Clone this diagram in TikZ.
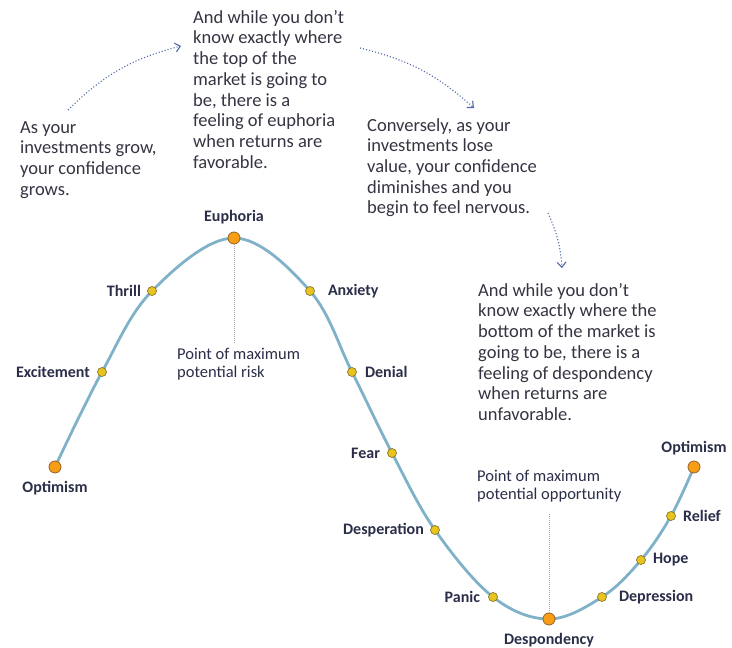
\documentclass[tikz,border=0pt]{standalone}
\usepackage{fontspec}
\setmainfont{Carlito}
\usepackage{xcolor}
\usetikzlibrary{positioning,arrows.meta}

\definecolor{curveblue}{RGB}{127,178,200}
\definecolor{dotorange}{RGB}{247,158,22}
\definecolor{dotorangeline}{RGB}{150,100,35}
\definecolor{dotyellow}{RGB}{232,196,32}
\definecolor{dotyellowline}{RGB}{140,118,40}
\definecolor{labelnavy}{RGB}{42,46,72}
\definecolor{textgray}{RGB}{52,52,66}
\definecolor{hintblue}{RGB}{80,105,170}

\begin{document}
\begin{tikzpicture}[x=1pt, y=-1pt,
  bigdot/.style={circle, fill=dotorange, draw=dotorangeline, line width=0.8pt, minimum size=12pt, inner sep=0pt},
  smalldot/.style={circle, fill=dotyellow, draw=dotyellowline, line width=0.7pt, minimum size=9pt, inner sep=0pt},
  lbl/.style={font=\fontsize{16}{17}\selectfont\bfseries, text=labelnavy, inner sep=0pt},
  pointnote/.style={font=\fontsize{16.5}{18}\selectfont, text=labelnavy, align=left, anchor=north west, inner sep=0pt},
  note/.style={font=\fontsize{18.5}{20.7}\selectfont, text=textgray, align=left, anchor=north west, inner sep=0pt},
  hint/.style={dotted, line width=1.1pt, draw=hintblue, -{Straight Barb[length=5pt, width=9pt]}},
  riskline/.style={densely dotted, draw=gray!70, line width=1pt},
  cycleline/.style={draw=curveblue, line width=2.8pt}]

\useasboundingbox (0,0) rectangle (732,648);

% points on the cycle
\foreach \name/\x/\y in {opt1/55/467, excite/102/372, thrill/152/291, euph/234/238,
    anx/310/291, denial/352/372, fear/392/453, desp/435/530, panic/493/597,
    despond/549/619, depr/602/597, hope/641/560, relief/671/516, opt2/694/467}
  \coordinate (\name) at (\x,\y);

\draw[cycleline] plot[smooth, tension=0.6] coordinates {(opt1) (excite) (thrill) (euph) (anx) (denial) (fear) (desp) (panic) (despond) (depr) (hope) (relief) (opt2)};

\foreach \name in {opt1, euph, despond, opt2}
  \node[bigdot] (\name-d) at (\name) {};
\foreach \name in {excite, thrill, anx, denial, fear, desp, panic, depr, hope, relief}
  \node[smalldot] (\name-d) at (\name) {};

% stage labels
\node[lbl, below=8pt of opt1-d] {Optimism};
\node[lbl, left=7pt of excite-d] {Excitement};
\node[lbl, left=6pt of thrill-d] {Thrill};
\node[lbl, above=7pt of euph-d] {Euphoria};
\node[lbl, right=13pt of anx-d] {Anxiety};
\node[lbl, right=8pt of denial-d] {Denial};
\node[lbl, left=7pt of fear-d] {Fear};
\node[lbl, left=6pt of desp-d] {Desperation};
\node[lbl, left=8pt of panic-d] {Panic};
\node[lbl, below=8pt of despond-d] {Despondency};
\node[lbl, right=12pt of depr-d] {Depression};
\node[lbl, right=7pt of hope-d] {Hope};
\node[lbl, right=7pt of relief-d] {Relief};
\node[lbl, above=5pt of opt2-d] {Optimism};

% maximum risk / opportunity
\node[pointnote] (risk) at (177,348) {Point of maximum\\potential risk};
\coordinate (riskend) at (234,343);
\draw[riskline] (euph-d) -- (riskend);
\node[pointnote] (oppo) at (477,470) {Point of maximum\\potential opportunity};
\coordinate (oppoend) at (549,513);
\draw[riskline] (despond-d) -- (oppoend);

% notes
\node[note] (grow) at (20,121) {As your\\investments grow,\\your confidence\\grows.};
\node[note] (top) at (193,10) {And while you don't\\know exactly where\\the top of the\\market is going to\\be, there is a\\feeling of euphoria\\when returns are\\favorable.};
\node[note] (lose) at (367,118) {Conversely, as your\\investments lose\\value, your confidence\\diminishes and you\\begin to feel nervous.};
\node[note] (bottom) at (478,283) {And while you don't\\know exactly where the\\bottom of the market is\\going to be, there is a\\feeling of despondency\\when returns are\\unfavorable.};

\coordinate (h1s) at (68,110);
\coordinate (h1e) at (181,46);
\coordinate (h2s) at (360,48);
\coordinate (h2e) at (474,108);
\coordinate (h3s) at (548,213);
\coordinate (h3e) at (562,268);
\draw[hint] (h1s) to[bend left=15] (h1e);
\draw[hint] (h2s) to[bend left=14] (h2e);
\draw[hint] (h3s) to[bend left=10] (h3e);
\end{tikzpicture}
\end{document}
